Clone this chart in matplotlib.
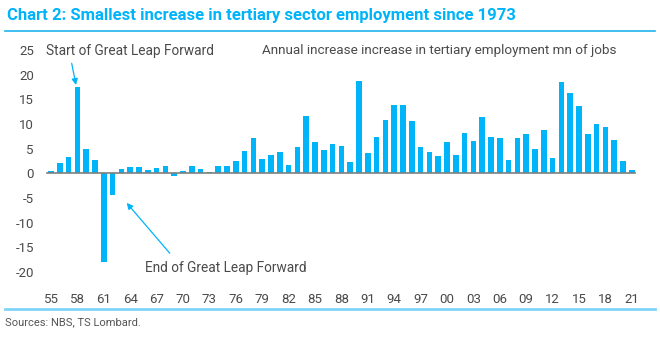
import matplotlib
matplotlib.use("Agg")
import matplotlib.pyplot as plt
import numpy as np

years = list(range(1955, 2022))
values = [0.4, 2.0, 3.4, 17.4, 4.9, 2.7, -17.9, -4.3, 0.8, 1.35,
          1.35, 0.6, 1.0, 1.4, -0.5, 0.4, 1.55, 0.9, 0.3, 1.55,
          1.4, 2.4, 4.5, 7.1, 3.0, 3.7, 4.3, 1.6, 5.3, 11.6,
          6.4, 4.7, 6.0, 5.6, 2.2, 18.8, 4.2, 7.4, 10.9, 13.8,
          13.9, 10.7, 5.3, 4.4, 3.6, 6.35, 3.65, 8.1, 6.6, 11.4,
          7.3, 7.2, 2.8, 7.1, 7.9, 4.9, 8.8, 3.2, 18.6, 16.3,
          13.6, 8.0, 9.9, 9.3, 6.8, 2.6, 0.7]
tick_years = list(range(1955, 2022, 3))
tick_labels = [f"{y % 100:02d}" for y in tick_years]
yticks = [25, 20, 15, 10, 5, 0, -5, -10, -15, -20]

title = "Chart 2: Smallest increase in tertiary sector employment since 1973"
legend_text = "Annual increase increase in tertiary employment mn of jobs"
source = "Sources: NBS, TS Lombard."

plt.rcParams['font.family'] = ['Roboto', 'DejaVu Sans']

W, H = 660, 337
fig = plt.figure(figsize=(W / 100, H / 100), dpi=100)

blue = '#00B4FA'
grey = '#4a4a4a'

# axes geometry in pixels
x0 = 51 - 8.8
x1 = 51 + 8.8 * 67
y_top, y_bot = 50, 272
ax = fig.add_axes([x0 / W, 1 - y_bot / H, (x1 - x0) / W, (y_bot - y_top) / H])

idx = np.array(years) - 1955
ax.bar(idx, values, width=0.62, color=blue, zorder=2)
ax.axhline(0, color='#7f7f7f', lw=1.2, zorder=3, xmin=0.008, xmax=0.99)

ax.set_xlim(-1, 67)
ax.set_ylim(-20, 25)
ax.set_yticks(yticks)
ax.set_yticklabels([str(v) for v in yticks])
ax.set_xticks(np.array(tick_years) - 1955)
ax.set_xticklabels(tick_labels)
for s in ax.spines.values():
    s.set_visible(False)
ax.tick_params(axis='both', length=0, labelsize=9.5, colors=grey)
ax.tick_params(axis='x', pad=15)
ax.tick_params(axis='y', pad=6)

arrow = dict(arrowstyle='-|>', color=blue, lw=0.9, mutation_scale=9,
             shrinkA=0, shrinkB=0)

# annotations
ax.text(-0.55, 24.8, "Start of Great Leap Forward", fontsize=9.8, color=grey,
        ha='left', va='center')
ax.annotate("", xy=(2.84, 17.9), xytext=(2.35, 22.3), arrowprops=arrow)
ax.annotate("", xy=(8.6, -6.0), xytext=(13.5, -16.2), arrowprops=arrow)
ax.text(10.7, -19.2, "End of Great Leap Forward", fontsize=9.8, color=grey,
        ha='left', va='center')
ax.text(24.0, 24.8, legend_text, fontsize=9.7, color=grey, ha='left', va='center')

# title, lines, source
fig.text(7 / W, 1 - 15.5 / H, title, fontsize=12.0, fontweight='bold', color=blue,
         ha='left', va='center')
fig.add_artist(plt.Line2D([5 / W, 655 / W], [1 - 31 / H, 1 - 31 / H],
                          color='#1EB4EE', lw=1.2))
fig.add_artist(plt.Line2D([5 / W, 655 / W], [1 - 309 / H, 1 - 309 / H],
                          color='#80D4F6', lw=2.0))
fig.text(5 / W, 1 - 322 / H, source, fontsize=8, color='#555555',
         ha='left', va='center')

fig.savefig("out.png", dpi=100)
